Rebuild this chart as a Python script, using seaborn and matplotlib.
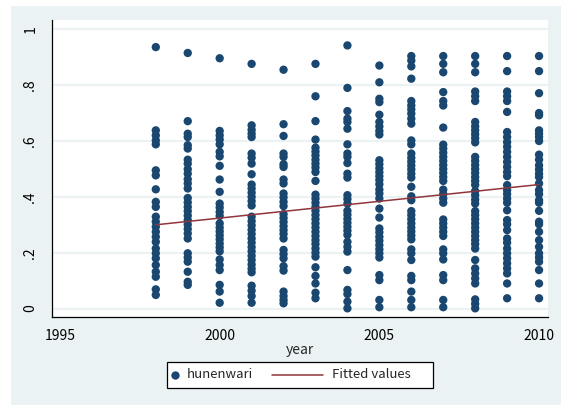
import numpy as np
import pandas as pd
import matplotlib
matplotlib.use("Agg")
import matplotlib.pyplot as plt
from matplotlib.patches import Rectangle
from matplotlib.lines import Line2D
import seaborn as sns

# ---- data ----
v1998 = [0.936, 0.638, 0.620, 0.602, 0.588, 0.495, 0.477, 0.427, 0.382, 0.364,
         0.329, 0.311, 0.293, 0.275, 0.257, 0.239, 0.215, 0.198, 0.180,
         0.156, 0.132, 0.114, 0.069, 0.049]
v1999 = [0.915, 0.671, 0.626, 0.614, 0.585, 0.573, 0.533, 0.519, 0.499, 0.483,
         0.463, 0.448, 0.430, 0.396, 0.380, 0.364, 0.349, 0.333, 0.317, 0.301,
         0.285, 0.269, 0.251, 0.198, 0.183, 0.168, 0.132, 0.096, 0.085]
v2000 = [0.896, 0.636, 0.620, 0.605, 0.588, 0.561, 0.545, 0.511, 0.462, 0.418,
         0.376, 0.362, 0.346, 0.332, 0.305, 0.290, 0.276, 0.262, 0.248, 0.233,
         0.219, 0.205, 0.176, 0.156, 0.138, 0.085, 0.061, 0.021]
v2001 = [0.876, 0.656, 0.640, 0.626, 0.614, 0.555, 0.540, 0.519, 0.481, 0.444,
         0.430, 0.415, 0.400, 0.385, 0.369, 0.329, 0.313, 0.298, 0.282, 0.267,
         0.251, 0.236, 0.220, 0.205, 0.189, 0.174, 0.158, 0.143, 0.130,
         0.082, 0.064, 0.045, 0.021]
v2002 = [0.855, 0.660, 0.618, 0.555, 0.543, 0.517, 0.507, 0.462, 0.448, 0.412,
         0.398, 0.382, 0.367, 0.338, 0.324, 0.310, 0.295, 0.281, 0.267, 0.251,
         0.210, 0.195, 0.180, 0.152, 0.136, 0.061, 0.045, 0.031, 0.019]
v2003 = [0.876, 0.760, 0.671, 0.605, 0.576, 0.562, 0.548, 0.533, 0.519, 0.505,
         0.489, 0.457, 0.408, 0.394, 0.379, 0.364, 0.350, 0.335, 0.320, 0.305,
         0.290, 0.275, 0.260, 0.245, 0.231, 0.215, 0.200, 0.186, 0.148, 0.117,
         0.090, 0.057, 0.037]
v2004 = [0.942, 0.790, 0.707, 0.680, 0.668, 0.644, 0.588, 0.555, 0.543, 0.521,
         0.483, 0.469, 0.406, 0.392, 0.376, 0.350, 0.336, 0.321, 0.307, 0.293,
         0.279, 0.264, 0.239, 0.221, 0.204, 0.138, 0.067, 0.052, 0.025, 0.001]
v2005 = [0.870, 0.810, 0.751, 0.739, 0.694, 0.668, 0.652, 0.636, 0.623, 0.531,
         0.517, 0.502, 0.488, 0.474, 0.460, 0.445, 0.426, 0.412, 0.394, 0.358,
         0.326, 0.287, 0.273, 0.257, 0.243, 0.227, 0.212, 0.198, 0.183, 0.120,
         0.102, 0.031, 0.005]
v2006 = [0.904, 0.888, 0.867, 0.823, 0.743, 0.727, 0.713, 0.698, 0.680, 0.662,
         0.602, 0.588, 0.555, 0.540, 0.526, 0.512, 0.498, 0.483, 0.469, 0.436,
         0.402, 0.388, 0.349, 0.335, 0.320, 0.305, 0.290, 0.276, 0.262, 0.248,
         0.212, 0.198, 0.174, 0.117, 0.102, 0.061, 0.031, 0.005]
v2007 = [0.904, 0.876, 0.846, 0.775, 0.743, 0.727, 0.648, 0.587, 0.573, 0.558,
         0.543, 0.529, 0.514, 0.500, 0.486, 0.471, 0.457, 0.426, 0.410, 0.394,
         0.379, 0.319, 0.305, 0.290, 0.275, 0.260, 0.212, 0.198, 0.176, 0.120,
         0.102, 0.031, 0.005]
v2008 = [0.904, 0.876, 0.846, 0.777, 0.760, 0.743, 0.668, 0.652, 0.638, 0.624,
         0.610, 0.595, 0.543, 0.529, 0.514, 0.500, 0.486, 0.471, 0.457, 0.443,
         0.421, 0.406, 0.390, 0.376, 0.349, 0.335, 0.320, 0.305, 0.290, 0.275,
         0.260, 0.245, 0.231, 0.215, 0.174, 0.144, 0.126, 0.108, 0.090,
         0.033, 0.017, 0.001]
v2009 = [0.904, 0.850, 0.777, 0.760, 0.743, 0.704, 0.632, 0.614, 0.596, 0.579,
         0.561, 0.543, 0.525, 0.507, 0.489, 0.474, 0.442, 0.424, 0.410, 0.394,
         0.379, 0.352, 0.317, 0.302, 0.281, 0.251, 0.236, 0.215, 0.198, 0.180,
         0.162, 0.144, 0.126, 0.090, 0.037]
v2010 = [0.904, 0.850, 0.771, 0.700, 0.692, 0.638, 0.626, 0.614, 0.600, 0.551,
         0.533, 0.513, 0.498, 0.483, 0.471, 0.448, 0.424, 0.410, 0.388, 0.379,
         0.350, 0.311, 0.302, 0.275, 0.245, 0.221, 0.198, 0.183, 0.168, 0.138,
         0.090, 0.037]

years = [1998, 1999, 2000, 2001, 2002, 2003, 2004, 2005, 2006, 2007, 2008, 2009, 2010]
values_by_year = [v1998, v1999, v2000, v2001, v2002, v2003, v2004, v2005,
                  v2006, v2007, v2008, v2009, v2010]

fit_years = [1998, 2010]
fit_values = [0.300, 0.444]

xticks = [1995, 2000, 2005, 2010]
yticks = [0, 0.2, 0.4, 0.6, 0.8, 1.0]
ytick_labels = ["0", ".2", ".4", ".6", ".8", "1"]
legend_labels = ["hunenwari", "Fitted values"]

# ---- build frames ----
scatter_df = pd.DataFrame({
    "year": np.concatenate([[y] * len(v) for y, v in zip(years, values_by_year)]),
    "hunenwari": np.concatenate(values_by_year),
})
fit_df = pd.DataFrame({"year": fit_years, "fitted": fit_values})

# ---- style ----
sns.set_style("white")
FONT = ["Noto Sans CJK JP", "DejaVu Sans"]
plt.rcParams["font.family"] = FONT

NAVY = "#1A476F"
MAROON = "#90353B"
BG = "#EAF2F3"

W, H = 561, 405
fig = plt.figure(figsize=(W / 100, H / 100), dpi=100, facecolor="white")
fig.patches.append(Rectangle((11 / W, 0), (W - 11) / W, (H - 6) / H,
                             transform=fig.transFigure, facecolor=BG,
                             edgecolor="none", zorder=-1))

ax = fig.add_axes([52 / W, 1 - 317 / H, (548 - 52) / W, (317 - 20) / H])
ax.set_facecolor("white")

# grid lines
for yv in yticks:
    ax.axhline(yv, color=BG, linewidth=1.5, zorder=0)

sns.scatterplot(data=scatter_df, x="year", y="hunenwari", ax=ax, color=NAVY,
                s=36, linewidth=0, edgecolor="none", zorder=3, legend=False)
sns.lineplot(data=fit_df, x="year", y="fitted", ax=ax, color=MAROON,
             linewidth=1.1, zorder=4, legend=False)

ax.set_xlim(1994.75, 2010.28)
ax.set_ylim(-0.03, 1.033)

ax.set_xticks(xticks)
ax.set_xticklabels([str(x) for x in xticks], fontsize=10)
ax.set_yticks(yticks)
ax.set_yticklabels(ytick_labels, fontsize=10, rotation=90, va="center")

ax.tick_params(axis="both", direction="out", length=5, width=0.8,
               color="black", labelcolor="black")
ax.tick_params(axis="y", pad=5.5)
ax.tick_params(axis="x", pad=4)

for side in ["top", "right"]:
    ax.spines[side].set_visible(False)
for side in ["left", "bottom"]:
    ax.spines[side].set_visible(True)
    ax.spines[side].set_color("black")
    ax.spines[side].set_linewidth(0.9)

ax.set_xlabel("year", fontsize=10, labelpad=-0.5)
ax.set_ylabel("")

# ---- legend (Stata style: short marker key, long line key) ----
def fx(px):
    return px / W

def fy(py):
    return 1 - py / H

fig.add_artist(Rectangle((fx(167), fy(388)), fx(433) - fx(167), fy(362) - fy(388),
                         transform=fig.transFigure, facecolor="white",
                         edgecolor="black", linewidth=0.9, zorder=5))
fig.add_artist(Line2D([fx(175)], [fy(375)], transform=fig.transFigure,
                      marker="o", linestyle="none", color=NAVY,
                      markersize=6, markeredgewidth=0, zorder=6))
fig.text(fx(187), fy(375), legend_labels[0], fontsize=9.5, va="center",
         ha="left", zorder=6)
fig.add_artist(Line2D([fx(272), fx(323)], [fy(375), fy(375)],
                      transform=fig.transFigure, color=MAROON,
                      linewidth=1.1, zorder=6))
fig.text(fx(332), fy(375), legend_labels[1], fontsize=9.5, va="center",
         ha="left", zorder=6)

fig.savefig("out.png", dpi=100, facecolor=fig.get_facecolor())
